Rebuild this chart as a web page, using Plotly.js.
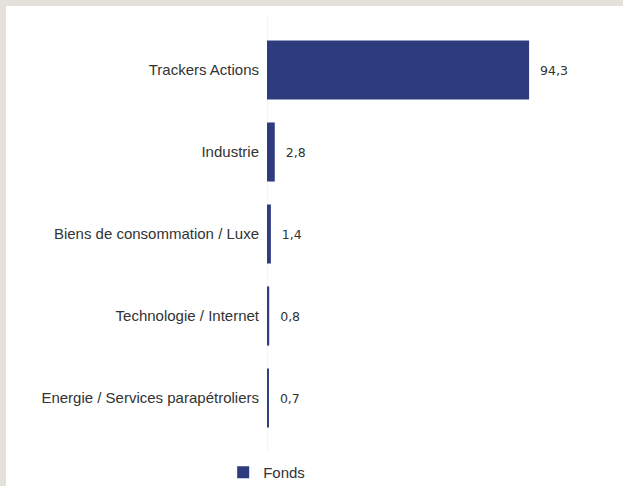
<!DOCTYPE html>
<html><head><meta charset="utf-8">
<script src="https://cdn.plot.ly/plotly-3.0.1.min.js"></script>
<style>
html,body{margin:0;padding:0;background:#e4e0dc;width:623px;height:486px;overflow:hidden;}
#chart{position:absolute;left:6px;top:6px;width:617px;height:480px;background:#fff;}
</style></head>
<body><div id="chart"></div>
<script>
const categories = ["Trackers Actions","Industrie","Biens de consommation / Luxe","Technologie / Internet","Energie / Services parapétroliers"];
const fondsValues = [94.3, 2.8, 1.4, 0.8, 0.7];
const seriesName = "Fonds";

const trace = {
  type: 'bar',
  orientation: 'h',
  name: seriesName,
  y: categories,
  x: fondsValues,
  width: 0.72,
  marker: {color: '#2e3c7f'},
  text: fondsValues.map(v => '  ' + v.toFixed(1).replace('.', ',')),
  textposition: 'outside',
  textfont: {family: 'DejaVu Sans, sans-serif', size: 12.5, color: '#333'},
  cliponaxis: false,
  hoverinfo: 'none',
  showlegend: true
};

const layout = {
  width: 617, height: 480,
  margin: {l: 261, r: 30, t: 23, b: 47},
  paper_bgcolor: '#ffffff',
  plot_bgcolor: '#ffffff',
  separators: ',.',
  font: {family: 'Liberation Sans, Arial, sans-serif', size: 15, color: '#333'},
  xaxis: {range: [0, 117.3], showgrid: false, zeroline: false, showticklabels: false, showline: false, fixedrange: true},
  yaxis: {autorange: 'reversed', showgrid: false, zeroline: false, showline: false, ticks: '', ticklabelstandoff: 7,
          tickfont: {family: 'Liberation Sans, Arial, sans-serif', size: 15, color: '#333'}},
  shapes: [{type: 'line', xref: 'x', yref: 'paper', x0: 0, x1: 0, y0: -0.032, y1: 1.034,
            line: {color: '#eeeeee', width: 1}, layer: 'below'}],
  showlegend: true,
  legend: {orientation: 'h', xref: 'container', yref: 'container', x: 0.352, xanchor: 'left', y: 0.028, yanchor: 'middle',
           font: {family: 'Liberation Sans, Arial, sans-serif', size: 15, color: '#333'}, bgcolor: 'rgba(0,0,0,0)'}
};

Plotly.newPlot('chart', [trace], layout, {staticPlot: true, displayModeBar: false});
</script></body></html>
